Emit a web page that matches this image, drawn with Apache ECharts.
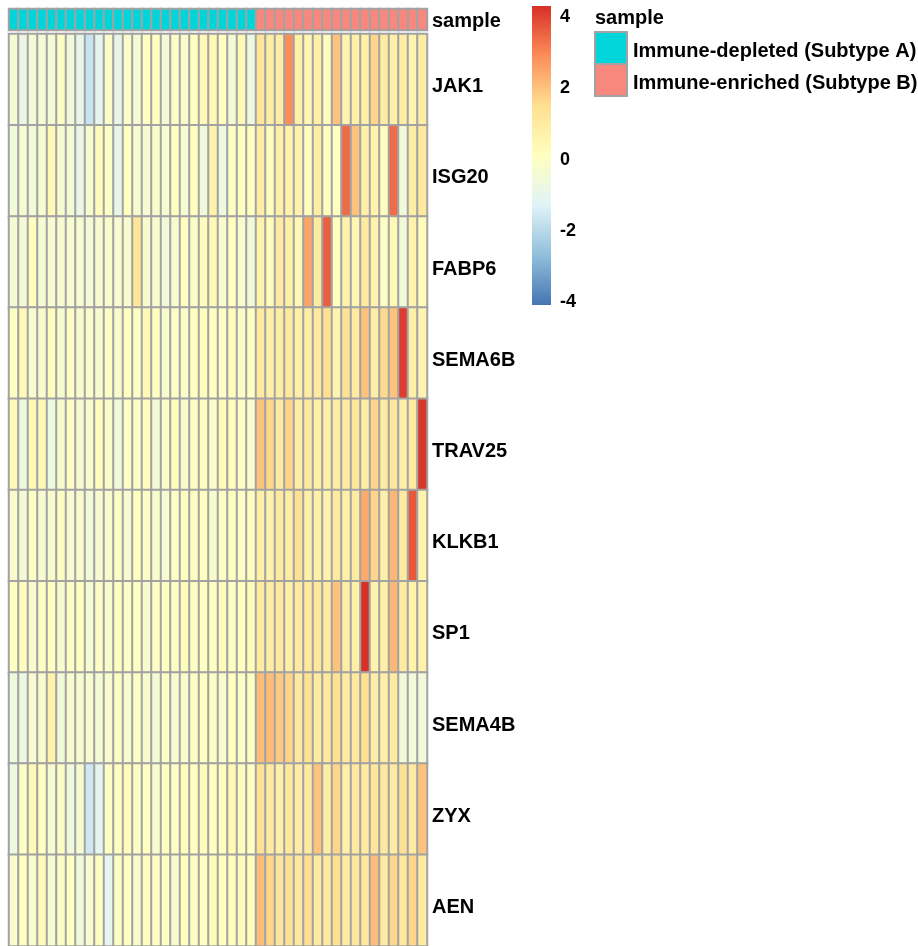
<!DOCTYPE html>
<html>
<head>
<meta charset="utf-8">
<script src="https://cdn.jsdelivr.net/npm/echarts@6/dist/echarts.min.js"></script>
<style>
  html, body { margin: 0; padding: 0; background: #ffffff; }
  #chart { width: 918px; height: 946px; }
</style>
</head>
<body>
<div id="chart"></div>
<script>
// Genes (rows, top to bottom)
const genes = ['JAK1', 'ISG20', 'FABP6', 'SEMA6B', 'TRAV25', 'KLKB1', 'SP1', 'SEMA4B', 'ZYX', 'AEN'];

// Sample annotation: 0 = Subtype A, 1 = Subtype B
const sampleGroup = [
  0,0,0,0,0,0,0,0,0,0,0,0,0,0,0,0,0,0,0,0,0,0,0,0,0,0,
  1,1,1,1,1,1,1,1,1,1,1,1,1,1,1,1,1,1
];
const groupNames = ['Immune-depleted (Subtype A)', 'Immune-enriched (Subtype B)'];
const groupColors = ['#00D6DA', '#F8877E'];
const annotationTitle = 'sample';

// Scaled expression per gene, one value per sample (left to right)
const JAK1 = [-0.4,-0.8,-0.4,-0.4,-0.4,0,-0.5,-0.9,-1.7,-1.0,-0.1,-0.9,-0.1,-0.4,0.1,0.1,-0.4,0,-0.2,0.1,0.4,0.4,0.1,-0.4,0.4,-0.7,
              1.3,0.9,0.9,2.9,0.8,0.5,0.8,0.2,2.0,0.6,0.8,0.8,1.7,1.0,0.8,0.9,0.6,0.9];
const ISG20 = [-0.5,-0.3,-0.5,-0.3,0.4,-0.3,-0.4,-0.8,-0.3,0.3,0,-0.9,0.1,-0.3,-0.3,-0.2,-0.3,0.1,-0.3,0.1,-0.5,0.7,-0.7,0,0.1,0.1,
               0.9,0.2,0.8,0.7,0.7,0.1,0.9,0.2,0.1,3.4,2.0,0.8,0.7,0.2,3.4,-0.5,0.9,1.1];
const FABP6 = [-0.4,-0.4,0.2,-0.3,-0.3,-0.3,-0.3,-0.3,-0.4,-0.3,-0.2,-0.3,-0.2,1.3,-0.2,-0.2,-0.5,-0.2,0.1,-0.1,0.3,0.4,-0.2,0.1,-0.2,-0.5,
               0.7,0.3,1.0,0.8,0.4,2.5,1.0,3.6,0.1,0.7,0.5,1.0,0.7,0.0,0.4,-0.5,0.7,0.3];
const SEMA6B = [0,0.4,-0.3,-0.2,0.2,-0.3,0,-0.2,-0.1,-0.3,0,-0.2,0.1,0,0.4,0.1,-0.2,0,-0.1,0.1,0.2,0.1,0,0.2,-0.1,0.1,
                1.0,0.8,0.9,1.1,0.8,0.9,1.1,1.5,0.6,1.4,1.0,2.0,0.9,1.6,2.0,4.1,0.8,0.6];
const TRAV25 = [0.4,-0.7,0.4,0.4,-0.7,-0.2,0,-0.3,-0.2,0.2,-0.1,-0.5,0,-0.1,0.2,-0.4,-0.1,0.2,-0.2,0,0.2,-0.1,0.3,0.2,0,-0.1,
                2.0,1.7,1.0,1.7,0.9,1.0,0.8,0.8,0.9,1.0,1.2,0.9,1.7,1.0,1.2,0.8,1.0,4.2];
const KLKB1 = [-0.2,-0.4,0,-0.3,-0.2,0,-0.3,-0.2,-0.5,-0.3,-0.2,0,-0.3,0.1,0,-0.2,-0.3,0,0.1,0,0.1,-0.2,0,0.1,0,0.2,
               0.8,0.7,1.0,0.9,1.4,0.8,0.8,0.7,1.1,0.8,1.0,2.4,1.7,0.8,2.2,1.0,3.7,0.7];
const SP1 = [0.1,0.2,-0.2,0,0.1,-0.2,0,0.1,-0.3,0,-0.2,0.1,0,0.1,-0.2,0,0.1,0,0.2,0,0.1,0.1,0.3,0,0.1,0.3,
             1.0,0.9,1.1,0.8,1.0,1.1,1.2,1.0,2.0,0.9,0.8,4.3,0.7,0.8,2.2,1.0,0.7,0.7];
const SEMA4B = [-0.6,-0.7,-0.3,-0.2,0.7,-0.5,-0.3,-0.2,-0.3,-0.4,-0.2,0,-0.3,0,-0.2,-0.4,0,-0.3,-0.2,0,0.1,0,-0.2,0.1,0,0.1,
                2.1,2.1,1.9,1.7,1.1,1.4,1.0,1.1,1.4,1.0,1.1,1.5,0.9,0.8,1.0,-0.5,-0.5,-0.5];
const ZYX = [-0.7,0,0.4,0.1,-0.3,0,-0.6,-0.3,-1.6,-1.0,0,0.1,0.3,0,0.1,-0.2,0.1,0,0.2,0.1,0.3,0.1,0.2,0.4,0.2,0.1,
             1.4,1.0,0.8,1.1,0.9,1.0,2.0,0.9,1.7,0.8,1.1,1.0,1.2,1.1,1.0,1.4,1.0,2.0];
const AEN = [-0.2,0.1,-0.2,0.3,-0.3,0,0.1,-0.5,-0.2,0.1,-1.0,0,0.1,-0.2,0.2,0,0.1,-0.2,0.1,0,0.1,0.3,0.1,0.2,0.3,0.2,
             2.1,1.7,1.2,1.4,1.1,1.5,1.0,1.1,1.5,1.0,1.2,1.1,2.1,1.0,1.7,1.1,1.7,1.0];

const expression = [JAK1, ISG20, FABP6, SEMA6B, TRAV25, KLKB1, SP1, SEMA4B, ZYX, AEN];

// Colour scale
const scaleMin = -4.07;
const scaleMax = 4.3;
const scaleTicks = [4, 2, 0, -2, -4];
const palette = ['#4575B4', '#91BFDB', '#E0F3F8', '#FFFFBF', '#FEE090', '#FC8D59', '#D73027'];

const samples = sampleGroup.map((g, i) => 'S' + (i + 1));

const cells = [];
expression.forEach((row, r) => {
  row.forEach((v, c) => cells.push([c, r, v]));
});
const annotationCells = sampleGroup.map((g, c) => [c, 0, g]);

const font = "'Liberation Sans', Arial, sans-serif";
const borderGrey = '#a2a2a2';

const chart = echarts.init(document.getElementById('chart'), null, { renderer: 'canvas' });

const gradientStops = palette.map((col, i) => ({ offset: 1 - i / (palette.length - 1), color: col }));

chart.setOption({
  backgroundColor: '#ffffff',
  animation: false,
  grid: [
    { left: 9, top: 34, width: 418, height: 917 },   // expression cells
    { left: 9, top: 9, width: 418, height: 21 },     // sample annotation strip
    { left: 532, top: 6, width: 19, height: 299 }    // colour bar
  ],
  xAxis: [
    { type: 'category', gridIndex: 0, data: samples, show: false },
    { type: 'category', gridIndex: 1, data: samples, show: false },
    { type: 'category', gridIndex: 2, data: ['bar'], show: false }
  ],
  yAxis: [
    {
      type: 'category', gridIndex: 0, data: genes, inverse: true, position: 'right',
      axisLine: { show: false }, axisTick: { show: false }, splitLine: { show: false },
      axisLabel: {
        margin: 5, verticalAlign: 'top', lineHeight: 14,
        color: '#000', fontFamily: font, fontWeight: 'bold', fontSize: 20
      }
    },
    {
      type: 'category', gridIndex: 1, data: [annotationTitle], position: 'right',
      axisLine: { show: false }, axisTick: { show: false }, splitLine: { show: false },
      axisLabel: {
        margin: 5, verticalAlign: 'top', lineHeight: 4,
        color: '#000', fontFamily: font, fontWeight: 'bold', fontSize: 20
      }
    },
    {
      type: 'value', gridIndex: 2, min: scaleMin, max: scaleMax, position: 'right',
      axisLine: { show: false }, axisTick: { show: false }, splitLine: { show: false },
      axisLabel: {
        customValues: scaleTicks, margin: 9, color: '#000',
        fontFamily: font, fontWeight: 'bold', fontSize: 18
      }
    }
  ],
  visualMap: [
    {
      type: 'continuous', show: false, seriesIndex: 0, dimension: 2,
      min: scaleMin, max: scaleMax, inRange: { color: palette }
    },
    {
      type: 'piecewise', show: false, seriesIndex: 1, dimension: 2,
      pieces: groupColors.map((col, i) => ({ value: i, color: col }))
    }
  ],
  series: [
    {
      type: 'heatmap', xAxisIndex: 0, yAxisIndex: 0, data: cells,
      itemStyle: { borderColor: borderGrey, borderWidth: 2 },
      emphasis: { disabled: true }
    },
    {
      type: 'heatmap', xAxisIndex: 1, yAxisIndex: 1, data: annotationCells,
      itemStyle: { borderColor: borderGrey, borderWidth: 2 },
      emphasis: { disabled: true }
    },
    {
      type: 'custom', xAxisIndex: 2, yAxisIndex: 2, data: [[0, scaleMin, scaleMax]],
      renderItem: function (params, api) {
        const top = api.coord([api.value(0), api.value(2)]);
        const bottom = api.coord([api.value(0), api.value(1)]);
        const w = api.size([1, 0])[0];
        return {
          type: 'rect',
          shape: { x: top[0] - w / 2, y: top[1], width: w, height: bottom[1] - top[1] },
          style: { fill: new echarts.graphic.LinearGradient(0, 0, 0, 1, gradientStops) }
        };
      }
    }
  ],
  graphic: [
    {
      type: 'text', left: 595, top: 8,
      style: { text: annotationTitle, fill: '#000', font: 'bold 20px ' + font }
    },
    ...groupNames.map((name, i) => ({
      type: 'group', left: 594, top: 31 + i * 32,
      children: [
        {
          type: 'rect', shape: { x: 0, y: 0, width: 32, height: 32 },
          style: { fill: groupColors[i], stroke: borderGrey, lineWidth: 2 }
        },
        {
          type: 'text', x: 38, y: 19,
          style: { text: name, fill: '#000', font: 'bold 20px ' + font, verticalAlign: 'middle' }
        }
      ]
    }))
  ]
});
</script>
</body>
</html>
